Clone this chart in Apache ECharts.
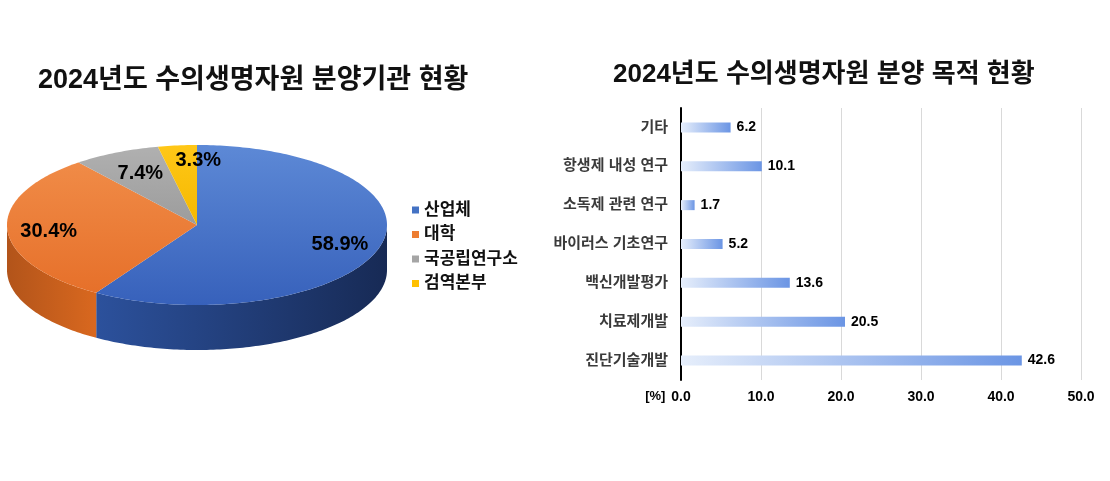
<!DOCTYPE html>
<html>
<head>
<meta charset="utf-8">
<script src="https://cdn.jsdelivr.net/npm/echarts@6/dist/echarts.min.js"></script>
<style>
html, body { margin: 0; padding: 0; background: #fff; }
#chart { width: 1110px; height: 481px; }
</style>
</head>
<body>
<div id="chart"></div>
<script>
// left: 분양기관 (%)
var pieNames = ['산업체', '대학', '국공립연구소', '검역본부'];
var pieValues = [58.9, 30.4, 7.4, 3.3];

// right: 분양 목적 (%)
var purposeNames = ['기타', '항생제 내성 연구', '소독제 관련 연구', '바이러스 기초연구', '백신개발평가', '치료제개발', '진단기술개발'];
var purposeValues = [6.2, 10.1, 1.7, 5.2, 13.6, 20.5, 42.6];

var xTicks = [0, 10, 20, 30, 40, 50];

var FONT = '"Liberation Sans", "Noto Sans CJK KR", sans-serif';

// 3d pie look
var CX = 197, CY = 225, RX = 190, RY = 80, DEPTH = 45;
var topColors = [
    ['#5d89d6', '#3761bb'],
    ['#f08b47', '#e6702a'],
    ['#b0b0b0', '#9c9c9c'],
    ['#ffc717', '#f5b800']
];
var sideColors = [
    ['#2c519c', '#172a55'],
    ['#b2541a', '#d9681f'],
    ['#8a8a8a', '#7a7a7a'],
    ['#d6a000', '#c49200']
];
var legendColors = ['#4472c4', '#ed7d31', '#a5a5a5', '#ffc000'];

function pt(a, dy) {
    return [CX + RX * Math.sin(a), CY - RY * Math.cos(a) + (dy || 0)];
}

function makeRender(i) {
    return function (params, api) {
        var total = 0, before = 0;
        for (var k = 0; k < pieValues.length; k++) {
            total += pieValues[k];
            if (k < i) before += pieValues[k];
        }
        var v = api.value(0);
        var start = before / total * Math.PI * 2;
        var end = (before + v) / total * Math.PI * 2;
        var step = Math.PI / 180;
        var children = [];

        // visible side (front half)
        var s = Math.max(start, Math.PI / 2), e = Math.min(end, Math.PI * 1.5);
        if (s < e) {
            var side = [];
            for (var a = s; a < e; a += step) side.push(pt(a));
            side.push(pt(e));
            for (var b = e; b > s; b -= step) side.push(pt(b, DEPTH));
            side.push(pt(s, DEPTH));
            children.push({
                type: 'polygon',
                shape: { points: side },
                style: {
                    fill: new echarts.graphic.LinearGradient(0, 0, 1, 0, [
                        { offset: 0, color: sideColors[i][0] },
                        { offset: 1, color: sideColors[i][1] }
                    ])
                }
            });
        }

        // top face
        var topPts = [[CX, CY]];
        for (var c = start; c < end; c += step) topPts.push(pt(c));
        topPts.push(pt(end));
        children.push({
            type: 'polygon',
            shape: { points: topPts },
            style: {
                fill: new echarts.graphic.LinearGradient(0, 0, 0, 1, [
                    { offset: 0, color: topColors[i][0] },
                    { offset: 1, color: topColors[i][1] }
                ])
            }
        });

        // label
        var mid = (start + end) / 2;
        var f = v < 5 ? 0.85 : 0.75;
        var lp = [CX + f * RX * Math.sin(mid), CY - f * RY * Math.cos(mid) + 3];
        if (v < 5) lp[0] += 18;
        else if (v < 10) lp[0] += 4;
        else if (v < 40) lp[0] -= 6;
        else lp[0] += 6;
        children.push({
            type: 'text',
            z2: 100,
            style: {
                x: lp[0],
                y: lp[1],
                text: v.toFixed(1) + '%',
                fill: '#000',
                font: 'bold 20px ' + FONT,
                align: 'center',
                verticalAlign: 'middle',
                textAlign: 'center',
                textVerticalAlign: 'middle'
            }
        });
        return { type: 'group', children: children };
    };
}

var chart = echarts.init(document.getElementById('chart'));

var series = [];
for (var i = 0; i < pieNames.length; i++) {
    series.push({
        name: pieNames[i],
        type: 'custom',
        coordinateSystem: 'none',
        itemStyle: { color: legendColors[i] },
        renderItem: makeRender(i),
        data: [[pieValues[i]]],
        silent: true
    });
}

series.push({
    name: '분양 목적',
    type: 'bar',
    barWidth: 10,
    data: purposeValues,
    itemStyle: {
        color: new echarts.graphic.LinearGradient(0, 0, 1, 0, [
            { offset: 0, color: '#e6eefb' },
            { offset: 1, color: '#6b95e4' }
        ])
    },
    label: {
        show: true,
        position: 'right',
        distance: 6,
        color: '#000',
        fontWeight: 'bold',
        fontSize: 14,
        fontFamily: FONT,
        formatter: function (p) { return p.value.toFixed(1); }
    }
});

option = {
    animation: false,
    title: [{
        text: '2024년도 수의생명자원 분양기관 현황',
        left: 38,
        top: 67,
        padding: 0,
        textStyle: { fontSize: 27, fontWeight: 'bold', color: '#111', fontFamily: FONT }
    }, {
        text: '2024년도 수의생명자원 분양 목적 현황',
        left: 613,
        top: 62,
        padding: 0,
        textStyle: { fontSize: 26, fontWeight: 'bold', color: '#111', fontFamily: FONT }
    }],
    legend: {
        data: pieNames,
        orient: 'vertical',
        left: 412,
        top: 201,
        padding: 0,
        icon: 'rect',
        itemWidth: 7,
        itemHeight: 7,
        itemGap: 6.5,
        selectedMode: false,
        textStyle: { fontSize: 17, fontWeight: 'bold', color: '#111', fontFamily: FONT, lineHeight: 18 }
    },
    grid: {
        left: 681,
        right: 29,
        top: 108,
        bottom: 101
    },
    xAxis: {
        type: 'value',
        min: xTicks[0],
        max: xTicks[xTicks.length - 1],
        interval: xTicks[1] - xTicks[0],
        name: '[%]',
        nameLocation: 'start',
        nameGap: 15,
        nameTextStyle: { fontSize: 13, fontWeight: 'bold', color: '#000', fontFamily: FONT, verticalAlign: 'top', padding: [10, 0, 0, 0] },
        axisLine: { lineStyle: { color: '#8c8c8c', width: 1.5 } },
        axisTick: { show: false },
        axisLabel: {
            margin: 10,
            fontSize: 14,
            fontWeight: 'bold',
            color: '#000',
            fontFamily: FONT,
            formatter: function (v) { return v.toFixed(1); }
        },
        splitLine: { lineStyle: { color: '#d9d9d9' } }
    },
    yAxis: {
        type: 'category',
        inverse: true,
        data: purposeNames,
        axisLine: { lineStyle: { color: '#000', width: 2 } },
        axisTick: { show: false },
        axisLabel: {
            margin: 13,
            fontSize: 15,
            fontWeight: 'bold',
            color: '#3a3a3a',
            fontFamily: FONT
        }
    },
    series: series
};

chart.setOption(option);
</script>
</body>
</html>
